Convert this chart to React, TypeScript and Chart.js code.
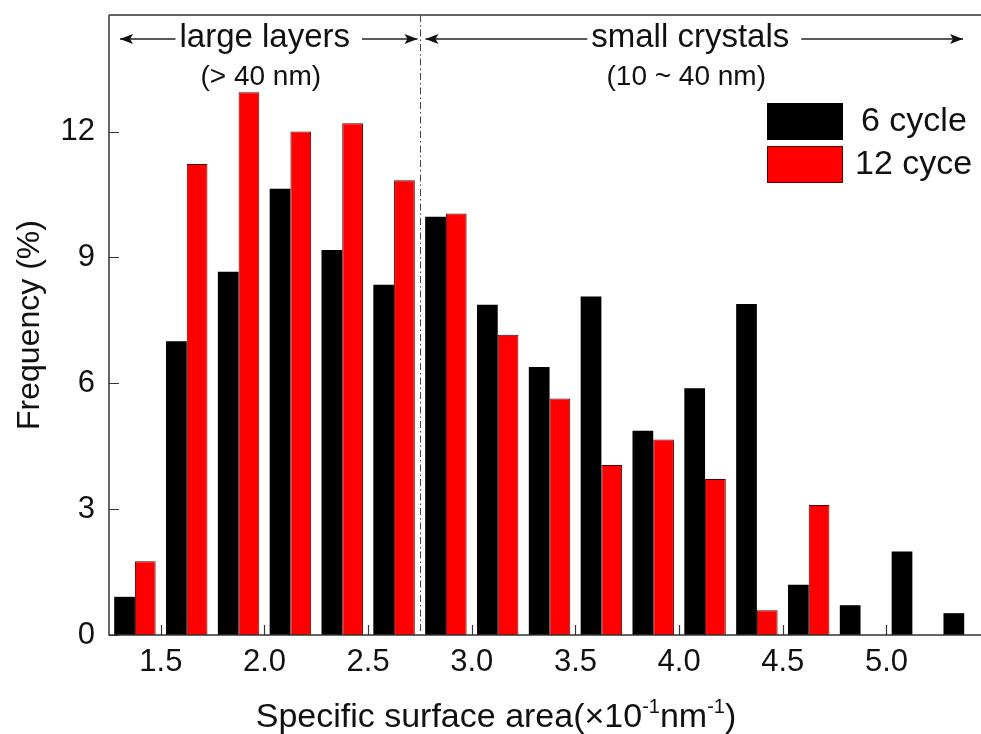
import React, { useEffect, useRef } from 'react';
import { Chart, registerables } from 'chart.js';

Chart.register(...registerables);

// ---- data ----
const binCenters = [1.375, 1.625, 1.875, 2.125, 2.375, 2.625, 2.875, 3.125, 3.375, 3.625, 3.875, 4.125, 4.375, 4.625, 4.875, 5.125, 5.375];
const sixCycle = [0.91, 7.0, 8.66, 10.64, 9.18, 8.35, 9.97, 7.87, 6.39, 8.07, 4.87, 5.88, 7.89, 1.2, 0.71, 1.99, 0.52];
const twelveCycle = [1.76, 11.23, 12.94, 12.0, 12.2, 10.84, 10.05, 7.16, 5.64, 4.05, 4.66, 3.72, 0.59, 3.1];
const seriesLabels = ['6 cycle', '12 cyce'];
const xTicks = [1.5, 2.0, 2.5, 3.0, 3.5, 4.0, 4.5, 5.0];
const yTicks = [0, 3, 6, 9, 12];
const dividerValue = 2.75;
const regionLabels = ['large layers', 'small crystals'];
const regionSubLabels = ['(> 40 nm)', '(10 ~ 40 nm)'];
const yTitle = 'Frequency (%)';
const xTitleParts = ['Specific surface area(\u00d710', '-1', 'nm', '-1', ')'];

const X_MIN = 1.25;
const X_MAX = 5.456;
const Y_MIN = 0;
const Y_MAX = 14.78;

const FONT = "'Liberation Sans', Arial, sans-serif";
const INK = '#111111';
const AXIS = '#333333';

function arrowHead(ctx: CanvasRenderingContext2D, x: number, y: number, dir: number) {
  ctx.beginPath();
  ctx.moveTo(x, y);
  ctx.lineTo(x - dir * 13, y - 5);
  ctx.lineTo(x - dir * 10, y);
  ctx.lineTo(x - dir * 13, y + 5);
  ctx.closePath();
  ctx.fill();
}

const decorPlugin = {
  id: 'decor',
  afterDatasetsDraw(chart: any) {
    const { ctx, chartArea } = chart;
    const { left, right, top, bottom } = chartArea;
    const xs = chart.scales.x;
    const ys = chart.scales.y;
    ctx.save();

    // frame / axes
    ctx.strokeStyle = AXIS;
    ctx.lineWidth = 1.5;
    ctx.beginPath();
    ctx.moveTo(left, top);
    ctx.lineTo(left, bottom);
    ctx.lineTo(right, bottom);
    ctx.moveTo(left, top);
    ctx.lineTo(right, top);
    ctx.stroke();

    // inward ticks
    ctx.lineWidth = 1.2;
    ctx.beginPath();
    yTicks.forEach((v) => {
      const y = Math.round(ys.getPixelForValue(v)) + 0.5;
      ctx.moveTo(left, y);
      ctx.lineTo(left + 10, y);
    });
    xTicks.forEach((v) => {
      const x = Math.round(xs.getPixelForValue(v)) + 0.5;
      ctx.moveTo(x, bottom);
      ctx.lineTo(x, bottom - 10);
    });
    ctx.stroke();

    // divider (dash-dot)
    const dx = Math.round(xs.getPixelForValue(dividerValue)) + 0.5;
    ctx.strokeStyle = '#444';
    ctx.lineWidth = 1;
    ctx.setLineDash([7, 3, 1.5, 3]);
    ctx.beginPath();
    ctx.moveTo(dx, top);
    ctx.lineTo(dx, bottom);
    ctx.stroke();
    ctx.setLineDash([]);

    // region arrows and labels
    const arrowY = 39;
    const regions = [
      { a: left + 11, b: dx - 3 },
      { a: dx + 5, b: right - 18 },
    ];
    ctx.fillStyle = INK;
    ctx.strokeStyle = '#222';
    ctx.lineWidth = 1.3;
    regions.forEach((r, i) => {
      const cx = (r.a + r.b) / 2;
      ctx.font = `33px ${FONT}`;
      const w = ctx.measureText(regionLabels[i]).width;
      ctx.beginPath();
      ctx.moveTo(r.a, arrowY);
      ctx.lineTo(cx - w / 2 - 8, arrowY);
      ctx.moveTo(cx + w / 2 + 8, arrowY);
      ctx.lineTo(r.b, arrowY);
      ctx.stroke();
      arrowHead(ctx, r.a, arrowY, -1);
      arrowHead(ctx, r.b, arrowY, 1);
      ctx.textAlign = 'center';
      ctx.textBaseline = 'middle';
      ctx.fillText(regionLabels[i], cx - 4, arrowY - 1);
      ctx.font = `28px ${FONT}`;
      ctx.fillText(regionSubLabels[i], cx - 8, 77);
    });

    // legend
    const ds = chart.data.datasets;
    const lx = right - 214;
    const boxes = [103, 146];
    ds.forEach((d: any, i: number) => {
      ctx.fillStyle = d.backgroundColor;
      ctx.fillRect(lx, boxes[i], 76, 37);
      if (d.borderWidth) {
        ctx.strokeStyle = d.borderColor;
        ctx.lineWidth = 1;
        ctx.strokeRect(lx + 0.5, boxes[i] + 0.5, 75, 36);
      }
      ctx.fillStyle = INK;
      ctx.font = `34px ${FONT}`;
      ctx.textAlign = 'left';
      ctx.textBaseline = 'middle';
      ctx.fillText(d.label, lx + 88 + (i === 0 ? 6 : 0), boxes[i] + 19);
    });

    // x-axis title with superscripts
    const mainFont = `34px ${FONT}`;
    const supFont = `20px ${FONT}`;
    const widths = xTitleParts.map((p, i) => {
      ctx.font = i % 2 === 1 ? supFont : mainFont;
      return ctx.measureText(p).width;
    });
    const total = widths.reduce((a, b) => a + b, 0);
    let x = 496 - total / 2;
    const baseY = 727;
    ctx.fillStyle = INK;
    ctx.textAlign = 'left';
    ctx.textBaseline = 'alphabetic';
    xTitleParts.forEach((p, i) => {
      const sup = i % 2 === 1;
      ctx.font = sup ? supFont : mainFont;
      ctx.fillText(p, x, sup ? baseY - 14 : baseY);
      x += widths[i];
    });

    ctx.restore();
  },
};

export default function App() {
  const ref = useRef<HTMLCanvasElement | null>(null);

  useEffect(() => {
    document.body.style.margin = '0';
    if (!ref.current) return;
    const chart = new Chart(ref.current, {
      type: 'bar',
      data: {
        datasets: [
          {
            label: seriesLabels[0],
            data: sixCycle.map((v, i) => ({ x: binCenters[i], y: v })),
            backgroundColor: '#000000',
            borderWidth: 0,
            categoryPercentage: 0.8,
            barPercentage: 1.0,
          },
          {
            label: seriesLabels[1],
            data: twelveCycle.map((v, i) => ({ x: binCenters[i], y: v })),
            backgroundColor: '#ff0000',
            borderColor: '#5a0000',
            borderWidth: 1,
            categoryPercentage: 0.8,
            barPercentage: 1.0,
          },
        ],
      },
      options: {
        animation: false,
        responsive: true,
        maintainAspectRatio: false,
        layout: { padding: { top: 15, right: 0, left: 0, bottom: 0 } },
        plugins: { legend: { display: false }, tooltip: { enabled: false } },
        scales: {
          x: {
            type: 'linear',
            min: X_MIN,
            max: X_MAX,
            offset: false,
            grid: { display: false, drawTicks: false },
            border: { display: false },
            ticks: {
              font: { size: 31, family: FONT },
              color: INK,
              padding: 9,
              maxRotation: 0,
              autoSkip: false,
              callback: (v: any) => Number(v).toFixed(1),
            },
            afterBuildTicks: (s: any) => {
              s.ticks = xTicks.map((v) => ({ value: v }));
            },
            afterFit: (s: any) => {
              s.height = 99;
              s.paddingLeft = 0;
              s.paddingRight = 0;
            },
          },
          y: {
            type: 'linear',
            min: Y_MIN,
            max: Y_MAX,
            grid: { display: false, drawTicks: false },
            border: { display: false },
            ticks: {
              font: { size: 31, family: FONT },
              color: INK,
              padding: 14,
              callback: (v: any) => String(v),
            },
            afterBuildTicks: (s: any) => {
              s.ticks = yTicks.map((v) => ({ value: v }));
            },
            afterFit: (s: any) => {
              s.width = 109;
              s.paddingTop = 0;
              s.paddingBottom = 0;
            },
            title: {
              display: true,
              text: yTitle,
              color: INK,
              font: { size: 32, family: FONT },
              padding: { top: 11, bottom: 0 },
            },
          },
        },
      },
      plugins: [decorPlugin],
    });
    return () => chart.destroy();
  }, []);

  return (
    <div style={{ position: 'relative', width: 981, height: 734, background: '#fff' }}>
      <canvas ref={ref} />
    </div>
  );
}
